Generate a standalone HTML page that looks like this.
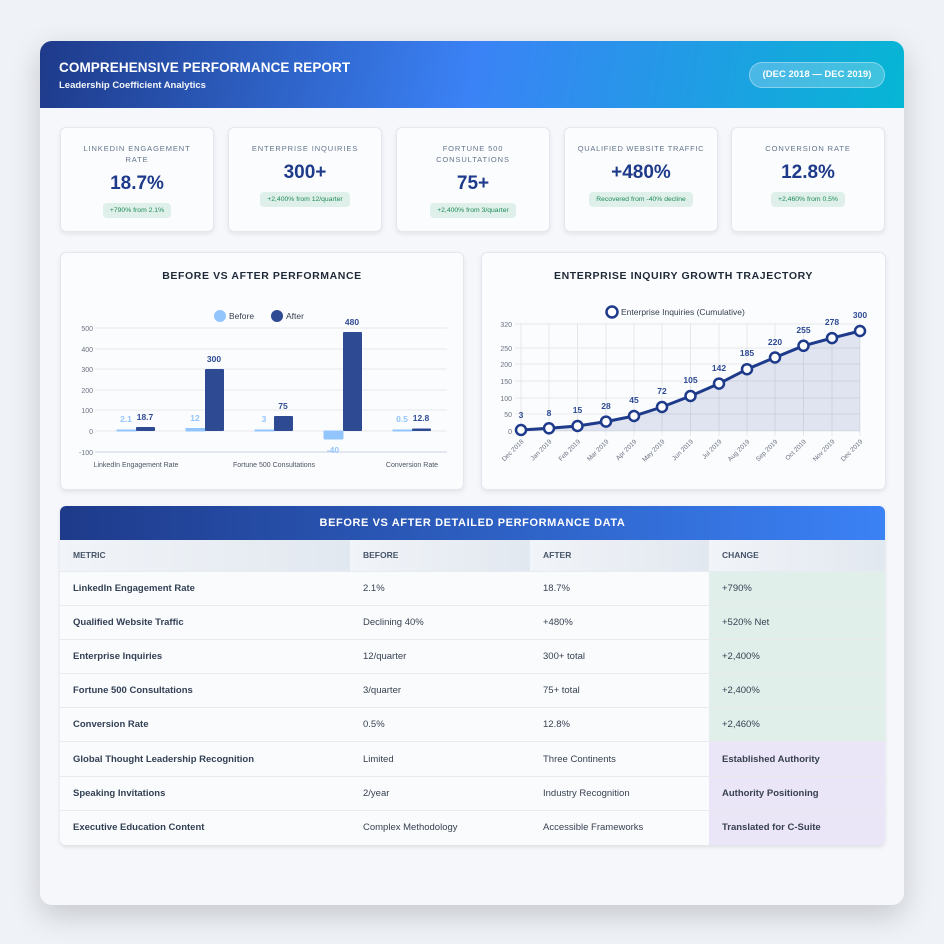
<!DOCTYPE html>
<html><head><meta charset="utf-8">
<style>
*{margin:0;padding:0;box-sizing:border-box}
body{width:944px;height:944px;background:#eff2f7;font-family:"Liberation Sans","DejaVu Sans",sans-serif;position:relative;overflow:hidden}
.wrap{position:absolute;left:40px;top:41px;width:864px;height:864px;background:#f5f7fb;border-radius:12px;box-shadow:0 10px 30px rgba(0,0,0,.18);overflow:hidden}
.hdr{height:67px;background:linear-gradient(100deg,#1e3a8a 0%,#3b82f6 50%,#06b6d4 100%);position:relative;color:#fff}
.hdr h1{position:absolute;left:19px;top:19px;font-size:13.5px;font-weight:bold;letter-spacing:.1px}
.hdr h2{position:absolute;left:19px;top:39px;font-size:9.5px;font-weight:bold;opacity:.95}
.pill{position:absolute;left:709px;top:21px;width:136px;height:26px;border-radius:13px;background:rgba(255,255,255,.22);border:1px solid rgba(255,255,255,.35);font-size:9.5px;font-weight:bold;text-align:center;line-height:24px}
.card{position:absolute;background:#fbfcfe;border:1px solid #e3e8ef;border-radius:6px;box-shadow:0 2px 5px rgba(0,0,0,.08)}
.kpi{top:86px;width:154px;height:105px;text-align:center}
.kpi .t{font-size:7.5px;letter-spacing:.9px;color:#64748b;margin-top:15px;line-height:11px;padding:0 6px}
.kpi .v{font-size:19px;font-weight:bold;color:#1e3a8a;margin-top:8px}
.kpi .b{display:inline-block;margin-top:8px;background:#dff0ea;color:#1f8a5a;font-size:6.8px;padding:4px 7px;border-radius:4px}
.ct{position:absolute;top:17px;width:100%;text-align:center;font-size:10.5px;font-weight:bold;color:#1f2937;letter-spacing:.6px}
table{position:absolute;left:20px;top:465px;width:825px;border-collapse:collapse;font-size:9.5px;color:#374151;background:#fafbfd;border-radius:6px;overflow:hidden;box-shadow:0 2px 5px rgba(0,0,0,.1)}
td.tt{height:34px;background:linear-gradient(90deg,#1e3a8a,#3b82f6);color:#fff !important;font-weight:bold;font-size:11px;letter-spacing:.6px;text-align:center}
th{height:31px;text-align:left;padding-left:13px;font-size:8.5px;color:#475569;background:linear-gradient(90deg,#f1f4f8,#e2e8f0)}
td{height:34.2px;padding-left:13px;border-top:1px solid #e8ecf1}
td:first-child{font-weight:bold;color:#334155}
.g{background:#e1efeb}.p{background:#ebe5f8;font-weight:bold;color:#374151}
</style></head><body>
<div class="wrap">
<div class="hdr"><h1>COMPREHENSIVE PERFORMANCE REPORT</h1><h2>Leadership Coefficient Analytics</h2><div class="pill">(DEC 2018 — DEC 2019)</div></div>
<div class="card kpi" style="left:20px"><div class="t" style="padding:0 18px">LINKEDIN ENGAGEMENT RATE</div><div class="v">18.7%</div><div class="b">+790% from 2.1%</div></div>
<div class="card kpi" style="left:188px"><div class="t">ENTERPRISE INQUIRIES</div><div class="v">300+</div><div class="b">+2,400% from 12/quarter</div></div>
<div class="card kpi" style="left:356px"><div class="t" style="padding:0 30px">FORTUNE 500 CONSULTATIONS</div><div class="v">75+</div><div class="b">+2,400% from 3/quarter</div></div>
<div class="card kpi" style="left:524px"><div class="t" style="padding:0 2px;letter-spacing:.7px">QUALIFIED WEBSITE TRAFFIC</div><div class="v">+480%</div><div class="b">Recovered from -40% decline</div></div>
<div class="card kpi" style="left:691px"><div class="t">CONVERSION RATE</div><div class="v">12.8%</div><div class="b">+2,460% from 0.5%</div></div>

<div class="card" style="left:20px;top:211px;width:404px;height:238px"><div class="ct">BEFORE VS AFTER PERFORMANCE</div></div>
<div class="card" style="left:441px;top:211px;width:405px;height:238px"><div class="ct">ENTERPRISE INQUIRY GROWTH TRAJECTORY</div></div>

<table>
<tr><td colspan="4" class="tt" style="padding:0;border:0">BEFORE VS AFTER DETAILED PERFORMANCE DATA</td></tr>
<tr><th style="width:290px">METRIC</th><th style="width:180px">BEFORE</th><th style="width:179px">AFTER</th><th>CHANGE</th></tr>
<tr><td>LinkedIn Engagement Rate</td><td>2.1%</td><td>18.7%</td><td class="g">+790%</td></tr>
<tr><td>Qualified Website Traffic</td><td>Declining 40%</td><td>+480%</td><td class="g">+520% Net</td></tr>
<tr><td>Enterprise Inquiries</td><td>12/quarter</td><td>300+ total</td><td class="g">+2,400%</td></tr>
<tr><td>Fortune 500 Consultations</td><td>3/quarter</td><td>75+ total</td><td class="g">+2,400%</td></tr>
<tr><td>Conversion Rate</td><td>0.5%</td><td>12.8%</td><td class="g">+2,460%</td></tr>
<tr><td>Global Thought Leadership Recognition</td><td>Limited</td><td>Three Continents</td><td class="p">Established Authority</td></tr>
<tr><td>Speaking Invitations</td><td>2/year</td><td>Industry Recognition</td><td class="p">Authority Positioning</td></tr>
<tr><td>Executive Education Content</td><td>Complex Methodology</td><td>Accessible Frameworks</td><td class="p">Translated for C-Suite</td></tr>
</table>
</div>

<svg width="944" height="944" style="position:absolute;left:0;top:0" font-family="Liberation Sans, sans-serif">
<g font-size="7" fill="#6b7280" text-anchor="end">
<g stroke="#e5e7eb" stroke-width="1">
<line x1="95" y1="328" x2="447" y2="328"/><line x1="95" y1="349" x2="447" y2="349"/><line x1="95" y1="369" x2="447" y2="369"/><line x1="95" y1="390" x2="447" y2="390"/><line x1="95" y1="410" x2="447" y2="410"/><line x1="95" y1="431" x2="447" y2="431"/><line x1="95" y1="452" x2="447" y2="452" stroke="#cbd5e1"/>
</g>
<text x="93" y="331">500</text><text x="93" y="352">400</text><text x="93" y="372">300</text><text x="93" y="393">200</text><text x="93" y="413">100</text><text x="93" y="434">0</text><text x="93" y="455">-100</text>
</g>
<g fill="#93c5fd" stroke="#93c5fd">
<rect x="117" y="430" width="19" height="1"/><rect x="186" y="428.5" width="19" height="2.5"/><rect x="255" y="430" width="19" height="1"/><rect x="324" y="431" width="19" height="8" rx="1"/><rect x="393" y="430" width="19" height="1"/>
</g>
<g fill="#2d4a93">
<rect x="136" y="427" width="19" height="4" rx="1"/><rect x="205" y="369" width="19" height="62" rx="1"/><rect x="274" y="416" width="19" height="15" rx="1"/><rect x="343" y="332" width="19" height="99" rx="1"/><rect x="412" y="428.5" width="19" height="2.5" rx="1"/>
</g>
<g font-size="8.5" font-weight="bold" text-anchor="middle">
<g fill="#93c5fd"><text x="126" y="422">2.1</text><text x="195" y="421">12</text><text x="264" y="422">3</text><text x="333" y="453">-40</text><text x="402" y="422">0.5</text></g>
<g fill="#2d4a93"><text x="145" y="420">18.7</text><text x="214" y="362">300</text><text x="283" y="409">75</text><text x="352" y="325">480</text><text x="421" y="421">12.8</text></g>
</g>
<g font-size="7" fill="#4b5563" text-anchor="middle"><text x="136" y="467">LinkedIn Engagement Rate</text><text x="274" y="467">Fortune 500 Consultations</text><text x="412" y="467">Conversion Rate</text></g>
<circle cx="220" cy="316" r="6" fill="#93c5fd"/><text x="229" y="319" font-size="8.5" fill="#374151">Before</text>
<circle cx="277" cy="316" r="6" fill="#2d4a93"/><text x="286" y="319" font-size="8.5" fill="#374151">After</text>

<g stroke="#e5e7eb" stroke-width="1">
<line x1="515" y1="324" x2="860" y2="324"/><line x1="515" y1="348" x2="860" y2="348"/><line x1="515" y1="364" x2="860" y2="364"/><line x1="515" y1="381" x2="860" y2="381"/><line x1="515" y1="398" x2="860" y2="398"/><line x1="515" y1="414" x2="860" y2="414"/><line x1="515" y1="431" x2="860" y2="431"/>
<line x1="521" y1="324" x2="521" y2="436"/><line x1="549" y1="324" x2="549" y2="436"/><line x1="577.5" y1="324" x2="577.5" y2="436"/><line x1="606" y1="324" x2="606" y2="436"/><line x1="634" y1="324" x2="634" y2="436"/><line x1="662" y1="324" x2="662" y2="436"/><line x1="690.5" y1="324" x2="690.5" y2="436"/><line x1="719" y1="324" x2="719" y2="436"/><line x1="747" y1="324" x2="747" y2="436"/><line x1="775" y1="324" x2="775" y2="436"/><line x1="803.5" y1="324" x2="803.5" y2="436"/><line x1="832" y1="324" x2="832" y2="436"/><line x1="860" y1="324" x2="860" y2="436"/>
</g>
<g font-size="7" fill="#6b7280" text-anchor="end"><text x="512" y="327">320</text><text x="512" y="351">250</text><text x="512" y="367">200</text><text x="512" y="384">150</text><text x="512" y="401">100</text><text x="512" y="417">50</text><text x="512" y="434">0</text></g>
<polygon fill="rgba(30,58,138,0.12)" points="521,431 521,430 549,428.3 577.5,426 606,421.6 634,416 662,407 690.5,396 719,383.6 747,369.2 775,357.5 803.5,345.8 832,338.1 860,331 860,431"/>
<polyline fill="none" stroke="#1e3a8a" stroke-width="3" points="521,430 549,428.3 577.5,426 606,421.6 634,416 662,407 690.5,396 719,383.6 747,369.2 775,357.5 803.5,345.8 832,338.1 860,331"/>
<g fill="#fff" stroke="#1e3a8a" stroke-width="2.5">
<circle cx="521" cy="430" r="5"/><circle cx="549" cy="428.3" r="5"/><circle cx="577.5" cy="426" r="5"/><circle cx="606" cy="421.6" r="5"/><circle cx="634" cy="416" r="5"/><circle cx="662" cy="407" r="5"/><circle cx="690.5" cy="396" r="5"/><circle cx="719" cy="383.6" r="5"/><circle cx="747" cy="369.2" r="5"/><circle cx="775" cy="357.5" r="5"/><circle cx="803.5" cy="345.8" r="5"/><circle cx="832" cy="338.1" r="5"/><circle cx="860" cy="331" r="5"/>
</g>
<g font-size="8.5" font-weight="bold" fill="#2d4a93" text-anchor="middle">
<text x="521" y="418">3</text><text x="549" y="416">8</text><text x="577.5" y="413">15</text><text x="606" y="409">28</text><text x="634" y="403">45</text><text x="662" y="394">72</text><text x="690.5" y="383">105</text><text x="719" y="371">142</text><text x="747" y="356">185</text><text x="775" y="345">220</text><text x="803.5" y="333">255</text><text x="832" y="325">278</text><text x="860" y="318">300</text>
</g>
<g font-size="6.5" fill="#6b7280" text-anchor="end">
<text transform="translate(524,442) rotate(-45)">Dec 2018</text><text transform="translate(552,442) rotate(-45)">Jan 2019</text><text transform="translate(580.5,442) rotate(-45)">Feb 2019</text><text transform="translate(609,442) rotate(-45)">Mar 2019</text><text transform="translate(637,442) rotate(-45)">Apr 2019</text><text transform="translate(665,442) rotate(-45)">May 2019</text><text transform="translate(693.5,442) rotate(-45)">Jun 2019</text><text transform="translate(722,442) rotate(-45)">Jul 2019</text><text transform="translate(750,442) rotate(-45)">Aug 2019</text><text transform="translate(778,442) rotate(-45)">Sep 2019</text><text transform="translate(806.5,442) rotate(-45)">Oct 2019</text><text transform="translate(835,442) rotate(-45)">Nov 2019</text><text transform="translate(863,442) rotate(-45)">Dec 2019</text>
</g>
<circle cx="612" cy="312" r="5.5" fill="#fff" stroke="#1e3a8a" stroke-width="2.5"/>
<text x="621" y="315" font-size="8.5" fill="#374151">Enterprise Inquiries (Cumulative)</text>
</svg>
</body></html>
